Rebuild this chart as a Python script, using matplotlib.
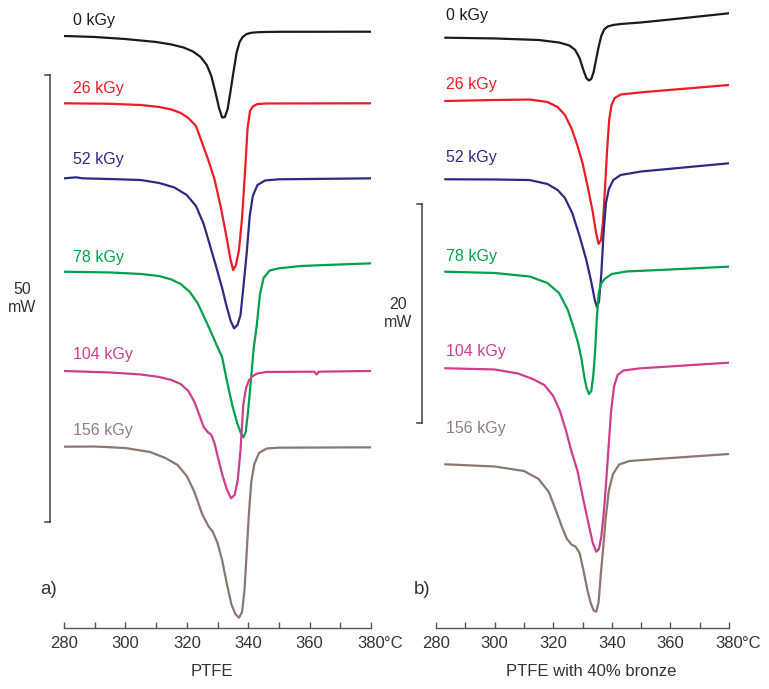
import matplotlib
matplotlib.use("Agg")
import matplotlib.pyplot as plt

plt.rcParams['font.family'] = ['Liberation Sans', 'DejaVu Sans']

W, H = 769, 689

doses = ['0 kGy', '26 kGy', '52 kGy', '78 kGy', '104 kGy', '156 kGy']
colors = ['#1b1b1b', '#ec1c24', '#2d2a80', '#00a04c', '#cc3f8e', '#8c7670']
label_colors = ['#1b1b1b', '#ec1c24', '#2d2a80', '#00a04c', '#cc3f8e', '#8f7f7a']

# ---- panel a: PTFE (heat flow, mW, curves shifted for clarity)
a_T = [
    [280, 290, 300, 310, 315, 319, 322, 324.5, 326.5, 328, 329.3, 330.5, 331.5, 332.4, 333.3, 334.2, 335.2, 336.2, 337.2, 338.2, 339.5, 341, 343, 346, 350, 380],
    [280, 295, 305, 311, 315, 318, 320.5, 323, 325, 327, 329, 331, 333, 334.2, 335.1, 336, 337, 338, 339, 339.8, 340.6, 341.5, 343, 346, 380],
    [280, 284, 286, 295, 305, 311, 316, 320, 323, 325.5, 327.5, 329.5, 331.5, 333, 334.3, 335.4, 336.5, 337.5, 338.5, 339.5, 340.5, 341.5, 343, 345.5, 350, 380],
    [280, 295, 305, 311, 315, 318, 321, 323.5, 325.8, 328, 330, 331.5, 333, 334.8, 336.5, 337.6, 338.4, 339.2, 340, 340.8, 341.8, 342.8, 343.8, 345, 347, 350, 357, 365, 380],
    [280, 295, 305, 311, 315, 318, 320.5, 322.5, 324.2, 325.5, 326.8, 328, 329, 330.2, 331.5, 333, 334.4, 335.6, 336.6, 337.5, 338.4, 339.3, 340.3, 341.5, 343, 346, 361.5, 362.3, 363, 380],
    [280, 290, 300, 308, 313, 317, 320, 322.5, 325, 327, 328.5, 330, 331.5, 333, 334.5, 335.8, 337, 338, 338.8, 339.5, 340.2, 341, 342, 343.5, 346, 350, 380],
]
a_Q = [
    [66.22, 66.11, 65.88, 65.55, 65.27, 64.93, 64.49, 63.87, 62.98, 61.74, 59.96, 58.17, 57.10, 57.16, 58.05, 59.96, 62.19, 64.32, 65.55, 66.11, 66.44, 66.58, 66.64, 66.67, 66.69, 66.70],
    [58.69, 58.64, 58.50, 58.28, 58.00, 57.61, 57.05, 56.15, 54.25, 52.35, 50.22, 47.20, 43.62, 41.28, 40.04, 40.60, 42.28, 45.86, 51.23, 55.93, 57.83, 58.33, 58.61, 58.67, 58.69],
    [50.30, 50.41, 50.30, 50.22, 50.11, 49.78, 49.27, 48.43, 47.20, 45.19, 42.84, 40.49, 38.03, 35.94, 34.34, 33.52, 33.89, 35.01, 38.37, 41.91, 46.09, 48.32, 49.55, 50.06, 50.19, 50.30],
    [39.85, 39.77, 39.60, 39.37, 38.98, 38.48, 37.58, 36.35, 34.68, 33.00, 31.43, 30.31, 27.74, 24.94, 22.82, 21.81, 21.33, 21.92, 24.38, 27.40, 31.32, 33.89, 37.25, 39.15, 39.99, 40.23, 40.49, 40.60, 40.79],
    [28.75, 28.58, 28.36, 28.08, 27.74, 27.29, 26.51, 25.28, 23.71, 22.48, 21.92, 21.59, 20.69, 19.02, 17.23, 15.55, 14.51, 14.88, 16.55, 19.91, 24.94, 26.85, 27.74, 28.19, 28.47, 28.64, 28.67, 28.36, 28.67, 28.75],
    [20.28, 20.30, 20.13, 19.69, 19.02, 18.23, 17.00, 15.21, 12.75, 11.41, 10.74, 9.51, 7.61, 5.03, 2.68, 1.57, 1.15, 1.79, 4.25, 8.39, 12.64, 16.33, 18.34, 19.57, 20.08, 20.17, 20.21],
]
a_label_y = [68.0, 60.3, 52.35, 41.39, 30.54, 22.04]
a_bar = 50  # mW

# ---- panel b: PTFE with 40% bronze
b_T = [
    [283.1, 300, 315, 322, 325.5, 327.5, 329, 330.3, 331.3, 332.2, 333, 333.8, 334.6, 335.5, 336.4, 337.4, 338.6, 340.5, 343, 350, 365, 380],
    [283.1, 300, 312, 318, 321.5, 324, 326.2, 328.2, 330, 331.8, 333.5, 334.7, 335.5, 336.3, 337, 337.7, 338.4, 339.1, 339.9, 341, 343, 350, 380],
    [283.1, 300, 312, 318, 321.5, 324, 326.5, 329, 331.3, 333, 334.2, 334.9, 335.6, 336.4, 337.2, 338, 339, 340.5, 343, 350, 380],
    [283.1, 300, 312, 318, 322, 325, 327, 328.5, 329.6, 330.5, 331.3, 332.2, 333, 333.7, 334.3, 334.9, 335.5, 336.3, 337.5, 340, 345, 360, 380],
    [283.1, 300, 308, 313, 317, 320, 322.3, 324.3, 326.3, 328.3, 330.3, 332, 333.5, 334.7, 335.6, 336.4, 337.2, 338, 338.9, 339.8, 340.8, 342, 344, 350, 380],
    [283.1, 300, 310, 315, 318.5, 321, 323, 324.7, 326.2, 327.6, 329, 330.3, 331.6, 332.8, 333.8, 334.7, 335.5, 336.2, 337, 337.9, 339, 340.4, 342.5, 346, 355, 380],
]
b_Q = [
    [53.91, 53.84, 53.70, 53.47, 53.20, 52.79, 52.05, 50.96, 50.23, 50.00, 50.14, 50.78, 51.87, 53.06, 54.06, 54.66, 54.93, 55.07, 55.16, 55.30, 55.71, 56.14],
    [48.13, 48.22, 48.26, 48.04, 47.58, 46.85, 45.66, 44.11, 42.47, 40.27, 37.99, 35.98, 35.07, 35.43, 37.08, 40.27, 43.65, 46.39, 47.76, 48.40, 48.72, 48.92, 49.59],
    [40.98, 40.96, 40.91, 40.55, 40.00, 39.27, 37.90, 35.80, 33.61, 31.60, 29.95, 29.34, 29.77, 32.24, 36.16, 38.81, 40.09, 40.91, 41.37, 41.69, 42.44],
    [32.54, 32.42, 32.10, 31.51, 30.59, 29.04, 27.40, 26.03, 24.66, 23.11, 22.01, 21.37, 21.64, 23.11, 25.21, 28.31, 30.50, 31.42, 31.87, 32.33, 32.56, 32.74, 33.00],
    [23.72, 23.61, 23.24, 22.74, 22.19, 21.19, 19.82, 18.08, 16.07, 14.34, 11.69, 9.59, 7.76, 6.97, 7.21, 8.31, 10.32, 13.06, 16.53, 19.91, 22.10, 23.11, 23.52, 23.72, 24.23],
    [14.95, 14.75, 14.34, 13.61, 12.42, 10.68, 9.22, 8.13, 7.63, 7.44, 6.85, 5.30, 3.56, 2.28, 1.60, 1.49, 2.37, 4.75, 7.12, 9.95, 12.60, 14.06, 14.93, 15.25, 15.43, 15.89],
]
b_label_y = [55.98, 49.59, 43.01, 33.97, 25.21, 18.26]
b_bar = 20  # mW

xticks = [280, 300, 320, 340, 360, 380]

fig = plt.figure(figsize=(W / 100, H / 100), dpi=100)
ax_a = fig.add_axes([64 / W, 61 / H, 307 / W, 628 / H])
ax_b = fig.add_axes([436 / W, 61 / H, 293 / W, 628 / H])


def draw_panel(ax, Ts, Qs, label_y, label_dx, ytop, bar, bar_bottom, bar_x, text_x):
    for T, Q, c in zip(Ts, Qs, colors):
        ax.plot(T, Q, color=c, lw=1.6, solid_capstyle='round', solid_joinstyle='round')
    for name, ly, T, lc in zip(doses, label_y, Ts, label_colors):
        ax.text(T[0] + label_dx, ly, name, color=lc, fontsize=11.5, ha='left', va='center')
    ax.set_xlim(280, 380)
    ax.set_ylim(0, ytop)
    for s in ['left', 'right', 'top']:
        ax.spines[s].set_visible(False)
    ax.spines['bottom'].set_color('#555555')
    ax.spines['bottom'].set_linewidth(1.0)
    ax.set_yticks([])
    ax.set_xticks(xticks)
    ax.set_xticks(range(290, 380, 20), minor=True)
    ax.tick_params(axis='x', which='both', direction='in', length=4, width=1,
                   color='#555555', labelsize=12, labelcolor='#333333', pad=6)
    ax.annotate('°C', xy=(380, 0), xytext=(13, -15), textcoords='offset pixels',
                fontsize=12, color='#333333', ha='left', va='center', annotation_clip=False)
    # scale bar
    top = bar_bottom + bar
    ax.plot([bar_x, bar_x], [bar_bottom, top], color='#404040', lw=1.1, clip_on=False)
    ax.plot([bar_x - 1.6, bar_x], [top, top], color='#404040', lw=1.1, clip_on=False)
    ax.plot([bar_x - 1.6, bar_x], [bar_bottom, bar_bottom], color='#404040', lw=1.1, clip_on=False)
    ax.text(text_x, bar_bottom + bar / 2, f'{bar}\nmW', fontsize=11.5, color='#333333',
            ha='center', va='center', linespacing=1.3, clip_on=False)


draw_panel(ax_a, a_T, a_Q, a_label_y, 3.0, 628 / 8.94, a_bar, 11.86, 275.4, 266.3)
draw_panel(ax_b, b_T, b_Q, b_label_y, 0.3, 628 / 10.95, b_bar, 18.72, 275.2, 267.0)

fig.text(49 / W, 1 - 590 / H, 'a)', fontsize=13.5, color='#333333', ha='center', va='center')
fig.text(422 / W, 1 - 590 / H, 'b)', fontsize=13.5, color='#333333', ha='center', va='center')
fig.text(212 / W, 1 - 672 / H, 'PTFE', fontsize=12, color='#333333', ha='center', va='center')
fig.text(591 / W, 1 - 672 / H, 'PTFE with 40% bronze', fontsize=12, color='#333333', ha='center', va='center')

fig.savefig('out.png', dpi=100)
